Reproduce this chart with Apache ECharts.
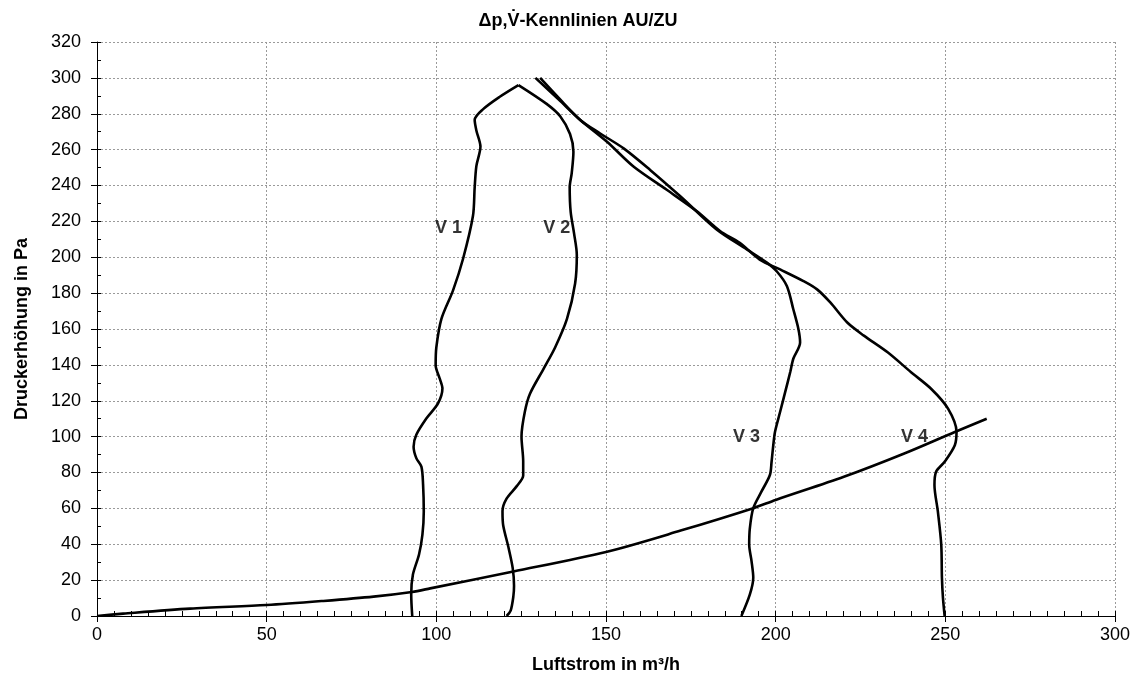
<!DOCTYPE html>
<html>
<head>
<meta charset="utf-8">
<script src="https://cdn.jsdelivr.net/npm/echarts@6/dist/echarts.min.js"></script>
<style>
html,body{margin:0;padding:0;background:#fff;}
#chart{width:1133px;height:679px;}
</style>
</head>
<body>
<div id="chart"></div>
<script>
// Axis settings
const xTicks = [0, 50, 100, 150, 200, 250, 300];
const yTicks = [0, 20, 40, 60, 80, 100, 120, 140, 160, 180, 200, 220, 240, 260, 280, 300, 320];

// Curves: [Luftstrom m³/h, Druckerhöhung Pa]
const v1 = [[92.9,0],[92.6,12],[93.1,23.1],[94.9,34.3],[95.9,45.4],[96.3,58.3],[96.1,73.1],[95.6,83.3],[94.1,88],[93.3,94.4],[94.1,101],[97.1,110.2],[100.5,118.5],[101.8,126.9],[101,132.4],[99.8,139.8],[100,149.7],[101.5,165.6],[104.9,181.4],[107.9,199.3],[110.8,223.1],[111.3,238.9],[111.8,250.8],[113,261.7],[111.8,270.7],[111.3,276.6],[113.8,282.6],[118.7,289.5],[124.2,296]];
const v2 = [[124.2,296],[132.5,285.5],[136.5,278.6],[139.4,268.7],[140.4,258.8],[139.9,246.9],[139.3,238.9],[139.6,225.1],[140.6,213.2],[141.4,201.3],[140.9,185.4],[138.5,165.6],[135,149.7],[131.6,137.8],[127.6,123.9],[126.1,114],[125.1,100.1],[125.6,86.3],[125.6,78.3],[123.7,72.4],[120.7,65.4],[119.5,58.5],[119.7,50.6],[121.2,38.7],[122.5,26.8],[122.9,16.9],[122.7,10.9],[121.9,3],[120.7,0]];
const v3 = [[130.6,300],[136,289],[142.5,276.4],[148.3,269],[155.2,260.7],[163,248.7],[171.9,234],[182.6,215.5],[191.5,204.4],[197.4,197],[200.3,192.2],[203.3,184],[205.2,171],[206.7,160],[207.2,152.5],[205.2,143.4],[204.3,136],[202.8,124.8],[201.3,113.7],[199.8,102.6],[199.3,95.2],[198.8,86],[198.3,78.6],[195.8,69.3],[193.4,60.1],[192.4,49],[192.2,39.8],[192.9,30.5],[193.4,21.3],[192.4,12],[189.9,0]];
const v4 = [[129.2,300],[136,288],[142.5,276.4],[150.3,264.4],[158.1,250.6],[167.9,237.6],[176.8,225.6],[183.6,214.6],[189.4,208],[195.3,198.7],[201.3,193.2],[208.2,186.7],[212.2,182.1],[216.1,174.8],[221.1,163.6],[226,156.3],[233,147],[239.9,135.9],[245.8,126.7],[250.8,115.6],[253.3,102.7],[252.8,95.2],[249.8,86],[247.3,80.5],[246.8,73],[247.8,58.3],[248.8,39.8],[249,21.3],[249.3,10.2],[249.8,0]];
const anlage = [[0,0],[7.7,1.3],[27.4,4.1],[50,6.1],[66.7,8.4],[81.5,10.8],[92.8,13.4],[98.2,15.4],[122.7,24.8],[150,35.7],[172,47.6],[193.4,60.1],[200,64.7],[220.1,77.6],[237.9,90.6],[252.8,102.6],[262.2,110]];

// Curve labels
const labelNames = ['V 1', 'V 2', 'V 3', 'V 4'];
const labelPos = [[103.6,216.5],[135.5,216.5],[191.4,99.8],[240.9,99.8]];

const titleText = 'Δp,V\u0307-Kennlinien AU/ZU';
const xName = 'Luftstrom in m³/h';
const yName = 'Druckerhöhung in Pa';

const FONT = '"Liberation Sans", Arial, sans-serif';
const chart = echarts.init(document.getElementById('chart'), null, {renderer: 'canvas'});

const lineSeries = (data) => ({
  type: 'line', data: data, xAxisIndex: 0, yAxisIndex: 0,
  showSymbol: false, smooth: 0.3, silent: true,
  lineStyle: {color: '#000', width: 2.6}
});

const gridLine = {show: true, lineStyle: {color: '#9a9a9a', width: 1, type: [2, 2]}};

chart.setOption({
  animation: false,
  backgroundColor: '#fff',
  graphic: [{
    type: 'text', x: 578, y: 12,
    style: {text: titleText, fill: '#000', font: 'bold 18px ' + FONT, textAlign: 'center', textVerticalAlign: 'top'}
  }],
  grid: {left: 97, right: 17, top: 42, bottom: 60, containLabel: false},
  xAxis: [{
    type: 'value', min: xTicks[0], max: xTicks[xTicks.length - 1], interval: xTicks[1] - xTicks[0],
    position: 'bottom',
    name: xName, nameLocation: 'middle', nameGap: 40,
    nameTextStyle: {color: '#000', fontFamily: FONT, fontSize: 18, fontWeight: 'bold'},
    axisLine: {show: true, onZero: false, lineStyle: {color: '#000', width: 1}},
    axisTick: {show: true, inside: false, length: 6, lineStyle: {color: '#000'}},
    axisLabel: {color: '#000', fontFamily: FONT, fontSize: 18, margin: 10},
    splitLine: gridLine
  }, {
    type: 'value', min: xTicks[0], max: xTicks[xTicks.length - 1], interval: 5,
    position: 'bottom',
    axisLine: {show: false},
    axisTick: {show: true, inside: true, length: 5, lineStyle: {color: '#000'}},
    axisLabel: {show: false},
    splitLine: {show: false}
  }],
  yAxis: [{
    type: 'value', min: yTicks[0], max: yTicks[yTicks.length - 1], interval: yTicks[1] - yTicks[0],
    position: 'left',
    name: yName, nameLocation: 'middle', nameGap: 66, nameRotate: 90,
    nameTextStyle: {color: '#000', fontFamily: FONT, fontSize: 18, fontWeight: 'bold'},
    axisLine: {show: true, onZero: false, lineStyle: {color: '#000', width: 1}},
    axisTick: {show: true, inside: false, length: 6, lineStyle: {color: '#000'}},
    axisLabel: {color: '#000', fontFamily: FONT, fontSize: 18, margin: 16},
    splitLine: gridLine
  }, {
    type: 'value', min: yTicks[0], max: yTicks[yTicks.length - 1], interval: 10,
    position: 'left',
    axisLine: {show: false},
    axisTick: {show: true, inside: true, length: 4, lineStyle: {color: '#000'}},
    axisLabel: {show: false},
    splitLine: {show: false}
  }],
  series: [
    lineSeries(anlage),
    lineSeries(v1),
    lineSeries(v2),
    lineSeries(v3),
    lineSeries(v4),
    {
      type: 'scatter', xAxisIndex: 0, yAxisIndex: 0, symbolSize: 0, silent: true,
      data: labelNames.map((n, i) => ({name: n, value: labelPos[i]})),
      label: {show: true, position: 'inside', formatter: '{b}', color: '#000',
        fontFamily: FONT, fontSize: 18, fontWeight: 'bold'}
    }
  ]
});
</script>
</body>
</html>
